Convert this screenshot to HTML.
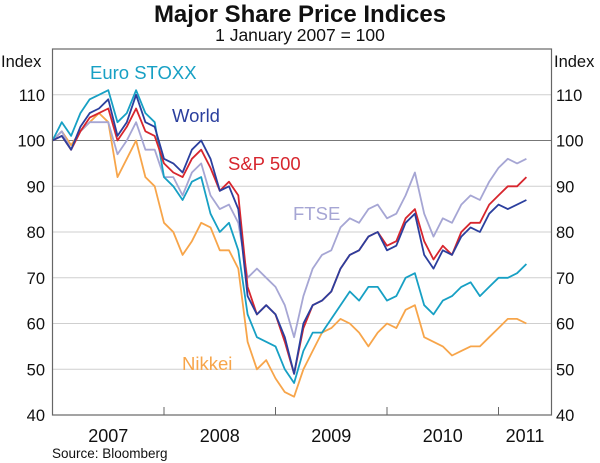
<!DOCTYPE html>
<html><head><meta charset="utf-8"><style>
body{margin:0;background:#fff;}
svg{display:block;font-family:"Liberation Sans",Arial,sans-serif;}
</style></head><body>
<svg id="chart" width="600" height="463" viewBox="0 0 600 463">
<text x="300" y="22" text-anchor="middle" font-size="24" font-weight="bold" fill="#111">Major Share Price Indices</text>
<text x="300" y="41" text-anchor="middle" font-size="17.5" fill="#111">1 January 2007 = 100</text>
<text x="1" y="67" font-size="16.5" fill="#111">Index</text>
<text x="554" y="67" font-size="16.5" fill="#111">Index</text>
<g id="grid"></g><g id="series"></g><g id="axes"></g>
<text x="90" y="79" font-size="18.5" fill="#17a0c4">Euro STOXX</text>
<text x="172" y="122" font-size="18.5" fill="#2b3f9e">World</text>
<text x="228" y="170" font-size="18.5" fill="#d7262e">S&amp;P 500</text>
<text x="293" y="220" font-size="18.5" fill="#a6a6d4">FTSE</text>
<text x="182" y="370" font-size="18.5" fill="#f7a54a">Nikkei</text>
<text x="52" y="458" font-size="13.5" fill="#111">Source: Bloomberg</text>
</svg>
<script>
const yTicks=[40,50,60,70,80,90,100,110];
const yearLabels=["2007","2008","2009","2010","2011"];
const world=[100,101,98,103,106,107,109,101,104,110,104,103,96,95,93,98,100,96,89,90,85,66,62,64,62,57,49,60,64,65,67,72,75,76,79,80,76,77,82,84,75,72,76,75,79,81,80,84,86,85,86,87];
const sp500=[100,101,98,102,105,106,107,100,103,107,102,101,95,93,92,96,98,94,89,91,88,68,62,64,62,56,49,59,64,65,67,72,75,76,79,80,77,78,83,85,78,74,77,75,80,82,82,86,88,90,90,92];
const euro=[100,104,101,106,109,110,111,104,106,111,106,104,92,90,87,91,92,84,80,82,76,62,57,56,55,50,47,54,58,58,61,64,67,65,68,68,65,66,70,71,64,62,65,66,68,69,66,68,70,70,71,73];
const ftse=[100,102,98,102,104,104,104,97,100,104,98,98,92,92,88,93,95,88,85,86,82,70,72,70,68,64,57,66,72,75,76,81,83,82,85,86,83,84,88,93,84,79,83,82,86,88,87,91,94,96,95,96];
const nikkei=[100,102,99,102,104,106,104,92,96,100,92,90,82,80,75,78,82,81,76,76,72,56,50,52,48,45,44,50,54,58,59,61,60,58,55,58,60,59,63,64,57,56,55,53,54,55,55,57,59,61,61,60];
const NS="http://www.w3.org/2000/svg";
const L=52.5,R=551.5,T=49,B=415,yMin=40,yMax=120;
const yS=v=>B-(v-yMin)/(yMax-yMin)*(B-T);
const yearW=111.5;
const xS=m=>L+(m/12)*yearW;
function mk(tag,attrs,parent){const e=document.createElementNS(NS,tag);for(const k in attrs)e.setAttribute(k,attrs[k]);parent.appendChild(e);return e;}
const grid=document.getElementById('grid'),axes=document.getElementById('axes'),ser=document.getElementById('series');
yTicks.forEach(v=>{
  if(v>yMin){const g=mk('line',{x1:L,x2:R,y1:yS(v),y2:yS(v),stroke:v===100?'#777':'#cfcfcf','stroke-width':1},grid);
  
  }
  const a=mk('text',{x:45,y:yS(v)+6,'text-anchor':'end','font-size':16.5,fill:'#111'},axes);a.textContent=v;
  
  
  const b=mk('text',{x:556,y:yS(v)+6,'font-size':16.5,fill:'#111'},axes);b.textContent=v;
  
  
});
const fr=mk('rect',{x:L,y:T,width:R-L,height:B-T,fill:'none',stroke:'#666','stroke-width':1.2},axes);


yearLabels.forEach((lab,i)=>{
  const x0=L+i*yearW, x1=Math.min(x0+yearW,R);
  if(i>0){const t=mk('line',{x1:x0,x2:x0,y1:B,y2:B-8,stroke:'#666','stroke-width':1},axes);
  
  }
  const tx=mk('text',{x:(x0+x1)/2,y:442,'text-anchor':'middle','font-size':18,fill:'#111'},axes);tx.textContent=lab;
  
  
});
[[nikkei,'#f7a54a','nikkei'],[ftse,'#a6a6d4','ftse'],[euro,'#17a0c4','euro-stoxx'],[sp500,'#d7262e','sp500'],[world,'#2b3f9e','world']].forEach(([d,c,n])=>{
  const p=mk('polyline',{points:d.map((v,i)=>xS(i).toFixed(1)+','+yS(v).toFixed(1)).join(' '),fill:'none',stroke:c,'stroke-width':1.8,'stroke-linejoin':'round'},ser);
  
  
});
</script>
</body></html>
